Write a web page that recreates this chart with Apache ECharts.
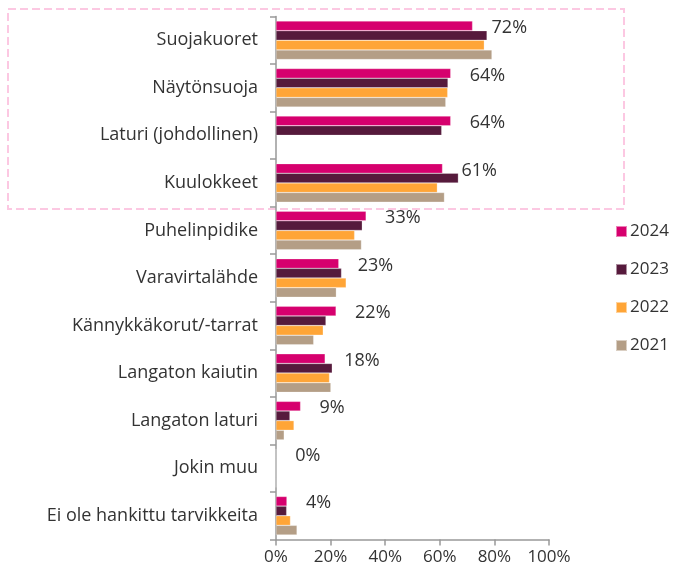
<!DOCTYPE html>
<html>
<head>
<meta charset="utf-8">
<script src="https://cdn.jsdelivr.net/npm/echarts@6/dist/echarts.min.js"></script>
<style>
  html, body { margin: 0; padding: 0; background: #fff; }
  #main { width: 674px; height: 571px; }
</style>
</head>
<body>
<div id="main"></div>
<script>
// luokat ylhäältä alas
var categories = ["Suojakuoret", "Näytönsuoja", "Laturi (johdollinen)", "Kuulokkeet", "Puhelinpidike",
    "Varavirtalähde", "Kännykkäkorut/-tarrat", "Langaton kaiutin", "Langaton laturi", "Jokin muu",
    "Ei ole hankittu tarvikkeita"];
var years = ["2024", "2023", "2022", "2021"];
var v2024 = [72, 64, 64, 61, 33, 23, 22, 18, 9, 0, 4];
var v2023 = [77.3, 63, 60.7, 66.8, 31.6, 24, 18.3, 20.6, 5.1, 0, 3.9];
var v2022 = [76.3, 62.9, null, 59.1, 28.8, 25.7, 17.3, 19.6, 6.6, 0, 5.3];
var v2021 = [79.1, 62.2, null, 61.7, 31.3, 22.1, 13.8, 20.1, 3.0, 0, 7.7];
var xTicks = [0, 20, 40, 60, 80, 100];

var colors = ["#d6006e", "#561a3c", "#ffa537", "#b49e86"];
var font = "Open Sans";
var textColor = "#333";

var myChart = echarts.init(document.getElementById('main'));

function bar(name, data, color, withLabel) {
    return {
        name: name,
        type: 'bar',
        data: data,
        barGap: '0%',
        barCategoryGap: '19%',
        itemStyle: { color: color, borderColor: 'rgba(255,255,255,0.5)', borderWidth: 0.5 },
        label: {
            show: withLabel,
            position: 'right',
            distance: 19,
            offset: [0, 2],
            formatter: function (p) { return Math.round(p.value) + '%'; },
            color: textColor,
            fontFamily: font,
            fontSize: 18
        },
        silent: true
    };
}

var option = {
    animation: false,
    textStyle: { fontFamily: font },
    grid: { left: 276, right: 125, top: 16.5, bottom: 31.5 },
    legend: {
        orient: 'vertical',
        left: 610,
        top: 218,
        itemWidth: 11,
        itemHeight: 11,
        itemGap: 21,
        icon: 'rect',
        textStyle: { color: textColor, fontSize: 17, fontFamily: font, padding: [0, 0, 0, -2] },
        data: years
    },
    xAxis: {
        type: 'value',
        min: 0,
        max: 100,
        interval: 20,
        axisLine: { show: true, lineStyle: { color: '#999', width: 1.5 } },
        axisTick: { show: true, length: 6, lineStyle: { color: '#999', width: 1.5 } },
        splitLine: { show: false },
        axisLabel: {
            color: textColor, fontSize: 17, fontFamily: font, margin: 9,
            formatter: function (v) { return xTicks.indexOf(v) >= 0 ? v + '%' : ''; }
        }
    },
    yAxis: {
        type: 'category',
        inverse: true,
        data: categories,
        axisLine: { show: true, lineStyle: { color: '#999', width: 1.5 } },
        axisTick: { show: true, length: 6, lineStyle: { color: '#999', width: 1.5 } },
        axisLabel: { color: textColor, fontSize: 18, fontFamily: font, margin: 18 }
    },
    series: [
        bar(years[0], v2024, colors[0], true),
        bar(years[1], v2023, colors[1], false),
        bar(years[2], v2022, colors[2], false),
        bar(years[3], v2021, colors[3], false)
    ],
    graphic: [{
        type: 'rect',
        silent: true,
        shape: { x: 8, y: 9, width: 616, height: 200 },
        style: { fill: null, stroke: '#fcc8e2', lineWidth: 2, lineDash: [8, 4] }
    }]
};

myChart.setOption(option);
</script>
</body>
</html>
